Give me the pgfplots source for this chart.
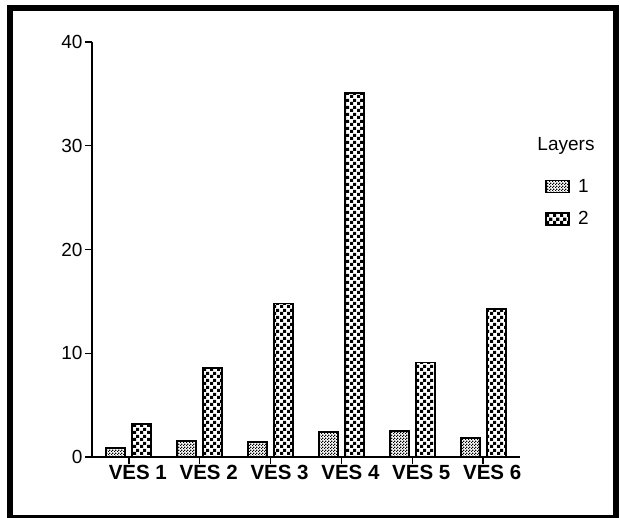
\documentclass[border=0pt]{standalone}
\usepackage{fontspec}
\setmainfont{Liberation Sans}
\usepackage{pgfplots}
\pgfplotsset{compat=1.18}
\usetikzlibrary{patterns.meta}
\pgfdeclarepattern{name=checkcoarse, type=uncolored,
  bottom left={\pgfpoint{0pt}{0pt}}, top right={\pgfpoint{7pt}{7pt}},
  tile size={\pgfpoint{7pt}{7pt}},
  code={\pgfpathrectangle{\pgfpointorigin}{\pgfpoint{3.5pt}{3.5pt}}
        \pgfpathrectangle{\pgfpoint{3.5pt}{3.5pt}}{\pgfpoint{3.5pt}{3.5pt}}
        \pgfusepath{fill}}}
\pgfdeclarepattern{name=checkfine, type=uncolored,
  bottom left={\pgfpoint{0pt}{0pt}}, top right={\pgfpoint{3pt}{3pt}},
  tile size={\pgfpoint{3pt}{3pt}},
  code={\pgfpathrectangle{\pgfpointorigin}{\pgfpoint{1.5pt}{1.5pt}}
        \pgfpathrectangle{\pgfpoint{1.5pt}{1.5pt}}{\pgfpoint{1.5pt}{1.5pt}}
        \pgfusepath{fill}}}
\newcommand{\lbl}{\fontsize{19}{22}\selectfont}
\newcommand{\xlbl}{\fontsize{20.5}{23}\selectfont}
\pgfplotstableread{
x y
0 0.85
1 1.55
2 1.45
3 2.4
4 2.5
5 1.8
}\layerone
\pgfplotstableread{
x y
0 3.2
1 8.6
2 14.8
3 35.1
4 9.1
5 14.3
}\layertwo
\begin{document}
\begin{tikzpicture}[x=1pt,y=1pt]
\useasboundingbox (0,0) rectangle (620,518);
\draw[line width=6.5pt] (10,510) rectangle (616,0);
\begin{axis}[
  at={(92pt,61pt)}, anchor=south west,
  scale only axis, width=428pt, height=415pt,
  xmin=-0.52, xmax=5.52, ymin=0, ymax=40,
  axis lines=left, axis line style={-, line width=1.6pt},
  ybar=7pt, bar width=19pt,
  xtick={0,1,2,3,4,5},
  xticklabels={VES 1,VES 2,VES 3,VES 4,VES 5,VES 6},
  ytick={0,10,20,30,40},
  tick align=outside, major tick length=7pt,
  tick style={line width=1.4pt, black},
  xticklabel style={font=\xlbl\bfseries, xshift=9pt, yshift=2pt},
  yticklabel style={font=\lbl, /pgf/number format/assume math mode=true, xshift=1pt},
  legend style={at={(1.052,0.68)}, anchor=north west, draw=none, fill=none,
     font=\lbl, row sep=14pt, legend cell align=left},
  legend image code/.code={\draw[#1, line width=1.2pt] (0pt,-6pt) rectangle (23pt,6pt);
     \path[draw=none, fill=none, pattern=none] (0pt,0pt) -- (30pt,0pt);},
]
\addplot[draw=black, line width=1.8pt, pattern=checkfine, pattern color=black] table[x=x,y=y] {\layerone};
\addlegendentry{1}
\addplot[draw=black, line width=1.8pt, pattern=checkcoarse, pattern color=black] table[x=x,y=y] {\layertwo};
\addlegendentry{2}
\end{axis}
\node[font=\lbl] at (566,372) {Layers};
\end{tikzpicture}
\end{document}
